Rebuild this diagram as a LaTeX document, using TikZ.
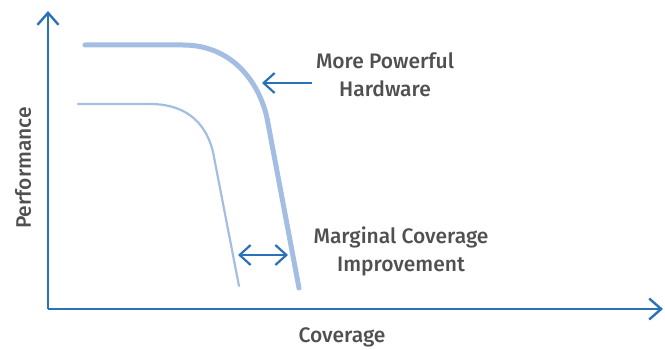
\documentclass[tikz,border=0pt]{standalone}
\usepackage{fontspec}
\setmainfont{Fira Sans Medium}
\usepackage{xcolor}
\usepackage{tikz}
\usetikzlibrary{arrows.meta}
\definecolor{axisblue}{HTML}{2A72B8}
\definecolor{curveblue}{HTML}{A3BDE3}
\definecolor{labelgray}{HTML}{505050}
\tikzset{
  axisline/.style={draw=axisblue,line width=2.4pt,-{Straight Barb[length=12pt,width=21pt,line width=2.4pt]}},
  pointer/.style={draw=axisblue,line width=2.2pt,-{Straight Barb[length=11pt,width=20pt,line width=2.2pt]}},
  bothpointer/.style={draw=axisblue,line width=2.2pt,{Straight Barb[length=11pt,width=20pt,line width=2.2pt]}-{Straight Barb[length=11pt,width=20pt,line width=2.2pt]}},
  oldcurve/.style={draw=curveblue,line width=2.2pt,line cap=round},
  newcurve/.style={draw=curveblue,line width=5pt,line cap=round},
  label/.style={text=labelgray,font=\fontsize{21}{28}\selectfont,align=center,inner sep=0pt}
}

\begin{document}
\begin{tikzpicture}[x=1pt,y=-1pt]
  \useasboundingbox (0,0) rectangle (665,350);
  % axes
  \coordinate (origin) at (48,309);
  \coordinate (ytip) at (48,11);
  \coordinate (xtip) at (663,309);
  \draw[axisline] (origin) -- (ytip);
  \draw[axisline] (origin) -- (xtip);
  \node[label,rotate=90] (perf) at (23,168) {Performance};
  \node[label] (cov) at (342,337) {Coverage};
  % curves
  \draw[oldcurve] (78,104) -- (150,104) .. controls (190,104) and (207,127) .. (213,152) -- (239,286);
  \draw[newcurve] (85,45) -- (183,45) .. controls (232,45) and (259,82) .. (267,118) -- (299,288);
  % more powerful hardware
  \coordinate (hwtail) at (312,83);
  \coordinate (hwtip) at (262,83);
  \draw[pointer] (hwtail) -- (hwtip);
  \node[label] (hw) at (385,75) {More Powerful\\Hardware};
  % marginal coverage improvement
  \coordinate (mleft) at (238,255);
  \coordinate (mright) at (288,255);
  \draw[bothpointer] (mleft) -- (mright);
  \node[label] (mci) at (401,251) {Marginal Coverage\\Improvement};
\end{tikzpicture}
\end{document}
